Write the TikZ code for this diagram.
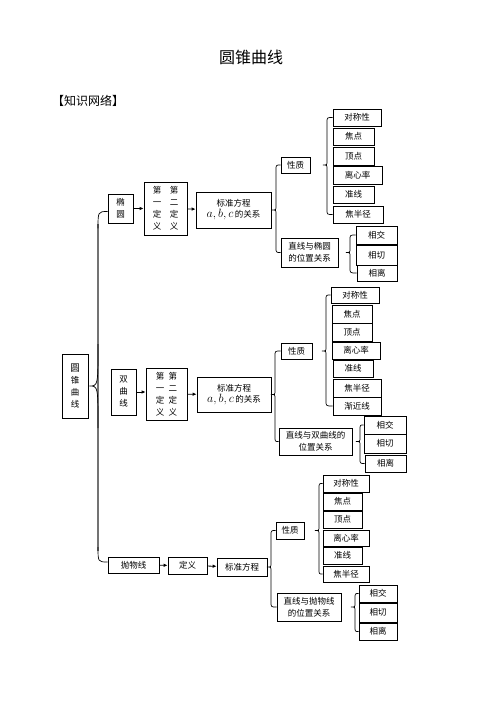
\documentclass[tikz,border=0pt]{standalone}
\usepackage{fontspec}
\newfontfamily\cjk{Noto Sans CJK SC}
\usetikzlibrary{calc,arrows.meta}
\tikzset{
  box/.style={draw, line width=0.7pt, inner sep=0pt, align=center, font=\cjk\fontsize{8.5}{12}\selectfont},
  brace/.style={draw, line width=0.7pt},
  arr/.style={-{Latex[length=4pt,width=3.5pt]}, line width=0.8pt},
}
\newcommand\mkbox[6]{\node[box, minimum width={(#4-#2)*1pt}, minimum height={(#5-#3)*1pt}] (#1) at ({(#2+#4)/2},{(#3+#5)/2}) {#6};}
\newcommand\drawbrace[4]{\draw[brace] let \p1=(#2.west), \p2=(#3.west), \p3=(#1.east) in
  (\p1) .. controls ({#4pt},{\y1}) .. ({#4pt},{\y1-5pt}) -- ({#4pt},{\y3+4pt})
  .. controls ({#4pt},{\y3}) .. ({#4pt-4pt},{\y3}) .. controls ({#4pt},{\y3}) .. ({#4pt},{\y3-4pt})
  -- ({#4pt},{\y2+5pt}) .. controls ({#4pt},{\y2}) .. (\p2);}
\newcommand\abc{{\fontsize{11.5}{13}\selectfont$a,b,c$}\,的关系}
\begin{document}
\begin{tikzpicture}[x=1pt,y=-1pt]
\useasboundingbox (0,0) rectangle (502,708);
\node[font=\cjk\fontsize{16}{18}\selectfont] (title) at (251,57) {圆锥曲线};
\node[anchor=west, inner sep=0pt, font=\cjk\fontsize{12}{14}\selectfont] (head) at (52,101) {【知识网络】};

% root
\mkbox{r}{62}{354}{88}{418}{\fontsize{9.5}{15}\selectfont 圆\\锥\\曲\\线}

% ellipse
\mkbox{e0}{108}{194}{133}{223}{\fontsize{8.5}{12.5}\selectfont 椭\\圆}
\mkbox{e1}{144}{182}{187}{235}{第\hspace{1em}第\\一\hspace{1em}二\\定\hspace{1em}定\\义\hspace{1em}义}
\mkbox{e2}{196}{192}{271}{228}{标准方程\\[-1pt]\abc}
\mkbox{eP}{281}{157}{310}{173}{性质}
\mkbox{eL}{281}{238}{338}{267}{直线与椭圆\\的位置关系}
\mkbox{e3}{333}{109}{381}{126}{对称性}
\mkbox{e4}{333}{128}{374}{145}{焦点}
\mkbox{e5}{333}{147}{374}{165}{顶点}
\mkbox{e6}{333}{166}{382}{184}{离心率}
\mkbox{e7}{333}{186}{374}{203}{准线}
\mkbox{e8}{333}{206}{383}{223}{焦半径}
\mkbox{e9}{356}{226}{397}{244}{相交}
\mkbox{e10}{356}{245}{397}{265}{相切}
\mkbox{e11}{357}{265}{397}{281}{相离}
\draw[arr] (e0) -- (e1);
\draw[arr] (e1) -- (e2);
\drawbrace{e2}{eP}{eL}{276}
\drawbrace{eP}{e3}{e8}{327}
\drawbrace{eL}{e9}{e11}{350}

% hyperbola
\mkbox{h0}{111}{369}{136}{415}{\fontsize{8.5}{13}\selectfont 双\\曲\\线}
\mkbox{h1}{146}{368}{187}{420}{第\hspace{0.5em}第\\一\hspace{0.5em}二\\定\hspace{0.5em}定\\义\hspace{0.5em}义}
\mkbox{h2}{197}{377}{271}{412}{标准方程\\[-1pt]\abc}
\mkbox{hP}{281}{343}{312}{359}{性质}
\mkbox{hL}{279}{428}{352}{455}{直线与双曲线的\\位置关系}
\mkbox{h3}{331}{287}{379}{303}{对称性}
\mkbox{h4}{332}{305}{372}{323}{焦点}
\mkbox{h5}{332}{323}{372}{341}{顶点}
\mkbox{h6}{332}{342}{380}{359}{离心率}
\mkbox{h7}{333}{360}{373}{377}{准线}
\mkbox{h8}{333}{379}{381}{397}{焦半径}
\mkbox{h9}{333}{397}{381}{415}{渐近线}
\mkbox{h10}{364}{416}{406}{434}{相交}
\mkbox{h11}{364}{434}{406}{453}{相切}
\mkbox{h12}{365}{455}{406}{472}{相离}
\draw[arr] (h0) -- (h0 -| h1.west);
\draw[arr] (h1) -- (h2);
\drawbrace{h2}{hP}{hL}{275}
\drawbrace{hP}{h3}{h9}{326}
\drawbrace{hL}{h10}{h12}{360}

% parabola
\mkbox{p0}{108}{557}{159}{573}{抛物线}
\mkbox{p1}{168}{557}{207}{574}{定义}
\mkbox{p2}{217}{558}{267}{576}{标准方程}
\mkbox{pP}{276}{522}{304}{539}{性质}
\mkbox{pL}{277}{593}{341}{621}{直线与抛物线\\的位置关系}
\mkbox{p3}{323}{475}{369}{492}{对称性}
\mkbox{p4}{323}{493}{362}{510}{焦点}
\mkbox{p5}{323}{511}{362}{528}{顶点}
\mkbox{p6}{323}{530}{369}{546}{离心率}
\mkbox{p7}{323}{547}{362}{564}{准线}
\mkbox{p8}{323}{566}{369}{582}{焦半径}
\mkbox{p9}{359}{585}{397}{602}{相交}
\mkbox{p10}{359}{603}{397}{622}{相切}
\mkbox{p11}{359}{623}{397}{640}{相离}
\draw[arr] (p0) -- (p1);
\draw[arr] (p1) -- (p2);
\drawbrace{p2}{pP}{pL}{271}
\drawbrace{pP}{p3}{p8}{319}
\drawbrace{pL}{p9}{p11}{355}

% root brace
\draw[black!55, line width=1.8pt] let \p1=(e0.west), \p2=(p0.west) in
  (98pt,{\y1-16pt}) -- (98pt,{\y2+14pt});
\draw[brace] let \p1=(e0.west), \p2=(p0.west), \p3=(r.east) in
  ({\x1},{\y1-3pt}) .. controls (98pt,{\y1-3pt}) .. (98pt,{\y1-20pt})
  (98pt,{\y3+42pt}) .. controls (98pt,{\y3}) .. ({\x3+1pt},{\y3}) .. controls (98pt,{\y3}) .. (98pt,{\y3-42pt})
  (98pt,{\y2+18pt}) .. controls (98pt,{\y2+3pt}) .. ({\x2},{\y2+3pt});
\end{tikzpicture}
\end{document}
